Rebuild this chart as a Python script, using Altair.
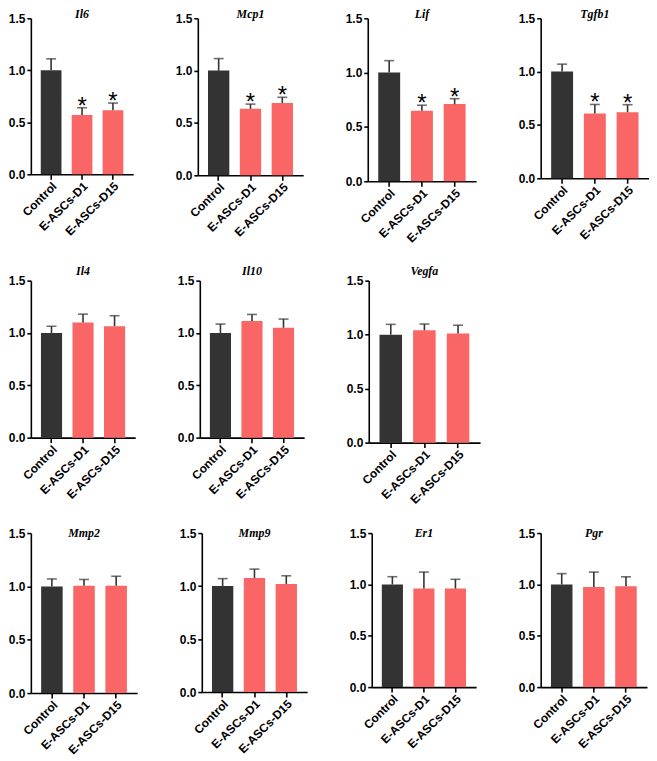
import altair as alt
import pandas as pd

genes = ["Il6", "Mcp1", "Lif", "Tgfb1", "Il4", "Il10", "Vegfa", "Mmp2", "Mmp9", "Er1", "Pgr"]
groups = ["Control", "E-ASCs-D1", "E-ASCs-D15"]

control_mean = [1.00, 1.00, 1.00, 1.00, 1.00, 1.00, 1.00, 1.00, 1.00, 1.00, 1.00]
control_err = [0.11, 0.115, 0.11, 0.07, 0.065, 0.085, 0.095, 0.07, 0.07, 0.075, 0.105]
d1_mean = [0.57, 0.635, 0.65, 0.607, 1.10, 1.115, 1.04, 1.005, 1.075, 0.96, 0.975]
d1_err = [0.07, 0.045, 0.05, 0.085, 0.08, 0.062, 0.058, 0.06, 0.085, 0.16, 0.145]
d15_mean = [0.615, 0.69, 0.71, 0.62, 1.065, 1.05, 1.01, 1.005, 1.02, 0.96, 0.982]
d15_err = [0.07, 0.055, 0.05, 0.07, 0.10, 0.083, 0.077, 0.09, 0.077, 0.09, 0.092]
sig_d1 = [True, True, True, True, False, False, False, False, False, False, False]
sig_d15 = [True, True, True, True, False, False, False, False, False, False, False]

colors = ["#333333", "#FA6565", "#FA6565"]

# per-panel plot sizes and title offsets (layout only)
panel_w = [103, 106, 109, 109, 105, 105, 112, 107, 106, 105, 107]
panel_h = [157, 158, 164, 161, 158, 158, 163, 161, 160, 155, 155]
title_off = [-9, -9, -9, -9, -3, -3, -3, -13, -13, -13, -13]

AX = dict(labelFont="Liberation Sans", labelFontWeight="bold", labelFontSize=12,
          labelColor="black", domainColor="black", domainWidth=1.6,
          tickColor="black", tickWidth=1.6)


def panel(i):
    df = pd.DataFrame({
        "group": groups,
        "mean": [control_mean[i], d1_mean[i], d15_mean[i]],
        "err": [control_err[i], d1_err[i], d15_err[i]],
        "star": ["", "*" if sig_d1[i] else "", "*" if sig_d15[i] else ""],
    })
    df["upper"] = df["mean"] + df["err"]
    base = alt.Chart(df)
    xenc = alt.X("group:N", sort=groups,
                 scale=alt.Scale(paddingInner=0.33, paddingOuter=0.32),
                 axis=alt.Axis(title=None, labelAngle=-45, tickSize=5, labelPadding=1,
                               minExtent=58, maxExtent=58, **AX))
    yscale = alt.Scale(domain=[0, 1.5], nice=False, zero=True)
    yaxis = alt.Axis(title=None, values=[0, 0.5, 1.0, 1.5], format=".1f", grid=False,
                     tickSize=4, labelPadding=2, minExtent=22, maxExtent=22, **AX)
    bars = base.mark_bar().encode(
        x=xenc,
        y=alt.Y("mean:Q", scale=yscale, axis=yaxis),
        color=alt.Color("group:N", scale=alt.Scale(domain=groups, range=colors), legend=None),
    )
    err = base.mark_rule(color="#333333", strokeWidth=1.6).encode(
        x=xenc, y=alt.Y("mean:Q", scale=yscale, axis=yaxis), y2="upper:Q")
    cap = base.mark_tick(color="#333333", thickness=1.6, size=10).encode(
        x=xenc, y=alt.Y("upper:Q", scale=yscale, axis=yaxis))
    stars = base.mark_text(font="Liberation Sans", fontSize=24, dy=6, baseline="alphabetic",
                           color="black").encode(
        x=xenc, y=alt.Y("upper:Q", scale=yscale, axis=yaxis), text="star:N")
    return alt.layer(bars, err, cap, stars).properties(
        width=panel_w[i], height=panel_h[i],
        title=alt.TitleParams(genes[i], font="Liberation Serif", fontStyle="italic",
                              fontWeight="bold", fontSize=12, offset=title_off[i],
                              anchor="middle", color="black"))


row1 = alt.hconcat(*[panel(i) for i in range(0, 4)], spacing=42)
row2 = alt.hconcat(*[panel(i) for i in range(4, 7)], spacing=42)
row3 = alt.hconcat(*[panel(i) for i in range(7, 11)], spacing=42)

top_rows = alt.vconcat(row1, row2, spacing=20)
chart = alt.vconcat(top_rows, row3, spacing=21).properties(
    padding={"left": 0, "top": -2, "right": 0, "bottom": 0}
).configure_view(stroke=None)

chart.save("out.html", embed_options={"renderer": "svg", "actions": False})
